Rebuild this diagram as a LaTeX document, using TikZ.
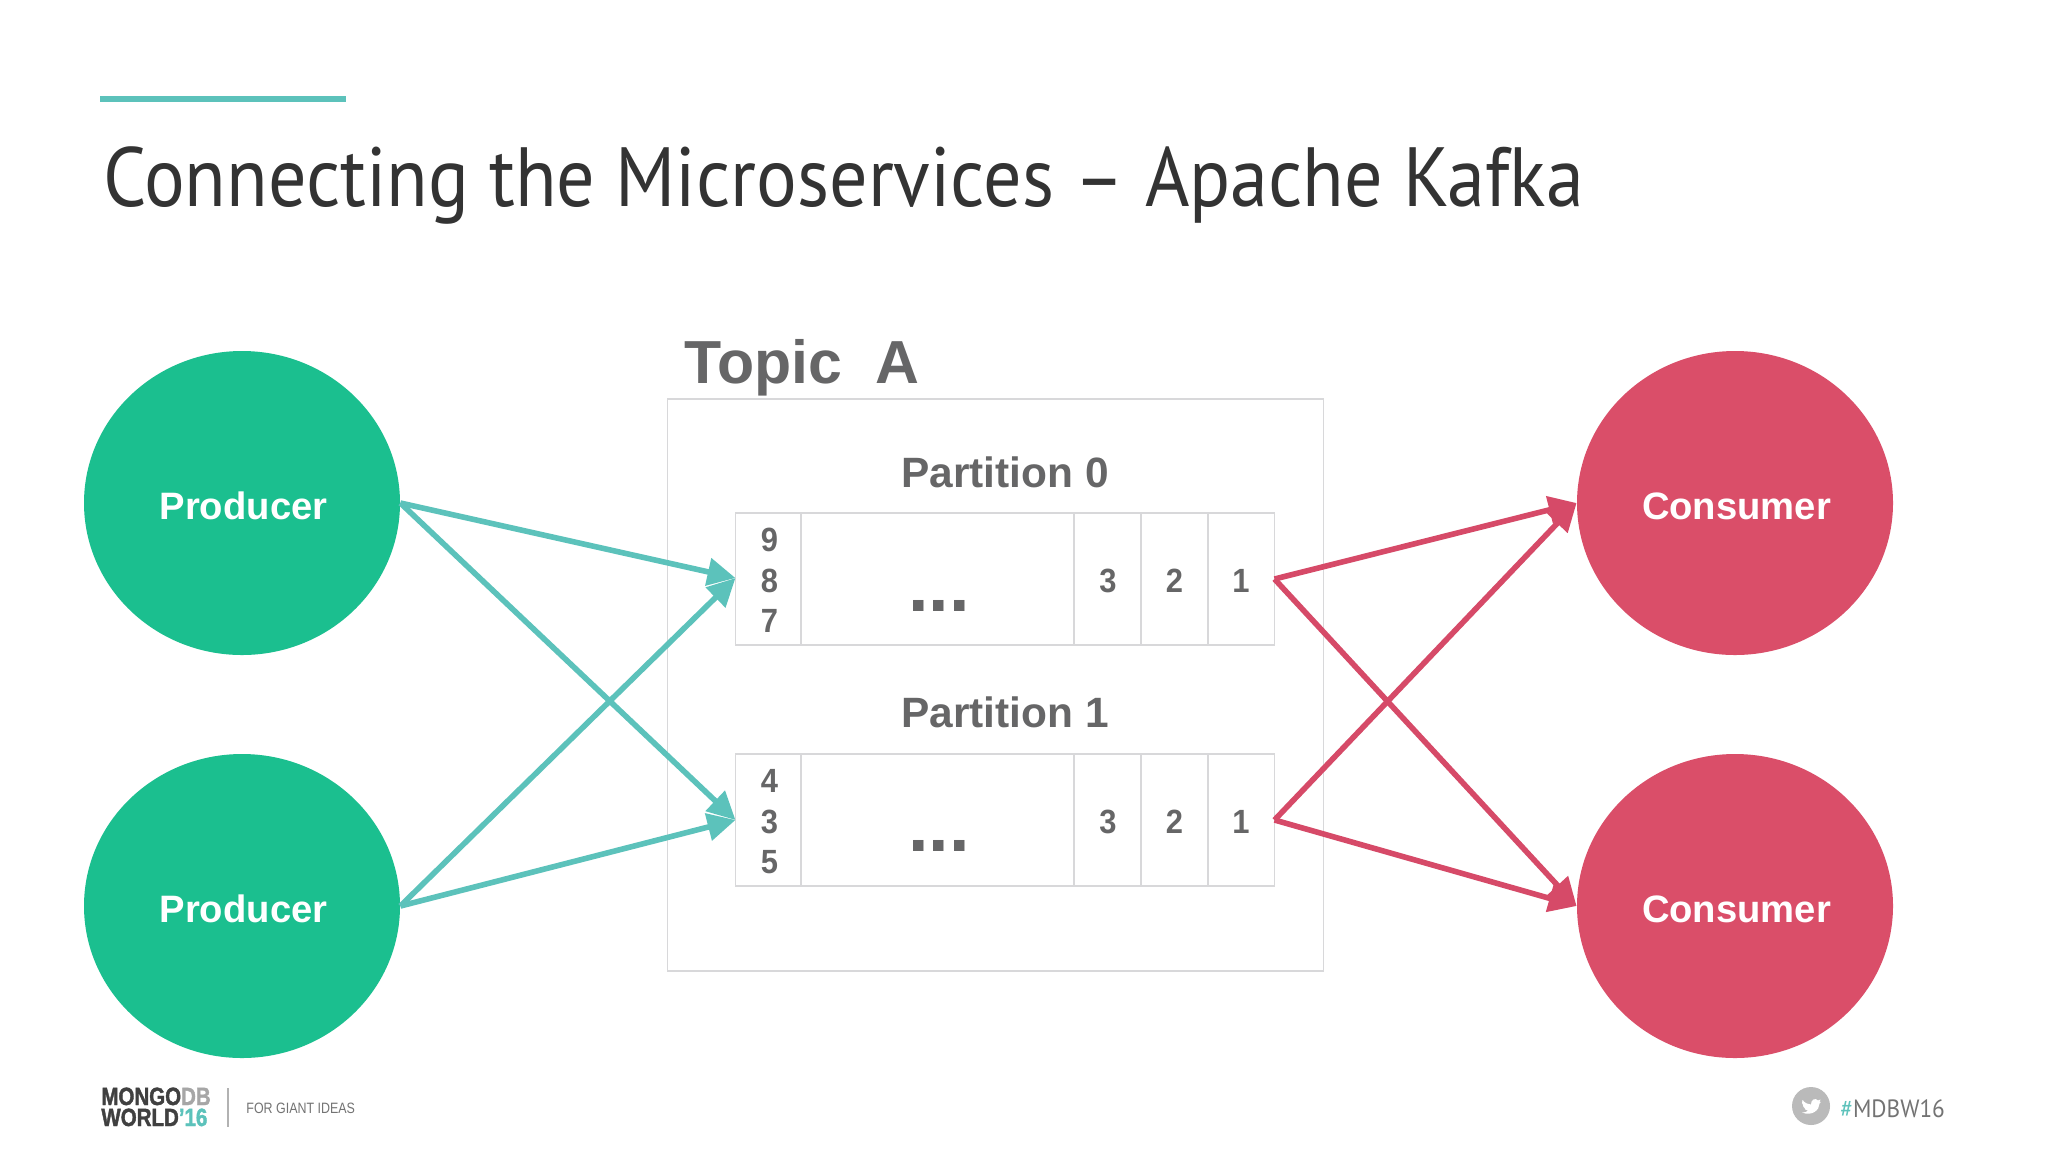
\documentclass[tikz,border=0pt]{standalone}
\usepackage{fontspec}
\setmainfont{Liberation Sans}
\newfontfamily\thinfont[FakeStretch=0.906]{PT Sans}
\newfontfamily\tagfont[FakeStretch=0.93]{PT Sans}
\usetikzlibrary{arrows.meta,shapes.geometric}
\definecolor{teal1}{HTML}{5CC2BB}
\definecolor{red1}{HTML}{D64A68}
\definecolor{greenc}{HTML}{1BBF8F}
\definecolor{redc}{HTML}{DA4E69}
\definecolor{graytx}{HTML}{666667}
\definecolor{boxl}{HTML}{D8D8DA}
\newcommand{\disctext}[1]{\hspace{1.5pt}\raisebox{-8.3pt}[0pt][0pt]{#1}}
\tikzset{
 x=0.5pt,y=-0.5pt,
 disc/.style={ellipse,minimum width=158pt,minimum height=152pt,inner sep=0pt,text=white,font=\bfseries\fontsize{19.1}{19.1}\selectfont},
 prod/.style={disc,fill=greenc},
 cons/.style={disc,fill=redc},
 lbl/.style={text=graytx,font=\bfseries\fontsize{21.2}{21.2}\selectfont,inner sep=0pt,anchor=base},
 dig/.style={text=graytx,font=\bfseries\addfontfeature{FakeStretch=0.92}\fontsize{16.8}{16.8}\selectfont,inner sep=0pt,anchor=base},
 cell/.style={draw=boxl,line width=0.8pt,inner sep=0pt},
 tl/.style={draw=teal1,line width=2.8pt,-{Triangle[length=14pt,width=13.5pt]}},
 rl/.style={draw=red1,line width=2.8pt,-{Triangle[length=14pt,width=13.5pt]}},
 dotsl/.style={lbl,font=\bfseries\fontsize{37}{37}\selectfont},
 logot/.style={anchor=base west,inner sep=0pt,font=\bfseries\addfontfeature{FakeStretch=0.82,FakeBold=1.5}\fontsize{12.5}{12.5}\selectfont},
}
\begin{document}
\begin{tikzpicture}
\useasboundingbox (0,0) rectangle (2048,1153);
\fill[white] (0,0) rectangle (2048,1153);
\fill[teal1] (100,96) rectangle (346,102);
\node[anchor=base west,inner sep=0pt,text=black!80,font=\thinfont\fontsize{42}{42}\selectfont] (title) at (103,206) {Connecting the Microservices – Apache Kafka};
\node[prod] (p1) at (242,503) {\disctext{Producer}};
\node[prod] (p2) at (242,906) {\disctext{Producer}};
\node[cons] (c1) at (1735,503) {\disctext{Consumer}};
\node[cons] (c2) at (1735,906) {\disctext{Consumer}};
\node[cell,minimum width=328pt,minimum height=286pt] (topic) at (995.5,685) {};
\node[lbl,anchor=base west,font=\bfseries\fontsize{30.4}{30.4}\selectfont] (tt) at (684,383) {Topic\ \ A};
\node[lbl] (pl0) at (1005,487) {Partition 0};
\node[lbl] (pl1) at (1005,727) {Partition 1};
\foreach \n/\t/\b in {a/513/645,b/754/886}{
 \node[cell,minimum width=269.5pt,minimum height=66pt] (part\n) at (1005,{(\t+\b)/2}) {};
 \foreach \x in {801,1074,1141,1208}
  \draw[boxl,line width=0.8pt] (\x,\t) -- (\x,\b);
}
\foreach \s/\yy in {9/551,8/592,7/632,4/792,3/833,5/873}
 \node[dig] (d\s) at (769.5,\yy) {\s};
\foreach \yy/\k in {592/a,833/b}{
 \node[dig] (x3\k) at (1108,\yy) {3};
 \node[dig] (x2\k) at (1174.5,\yy) {2};
 \node[dig] (x1\k) at (1241,\yy) {1};
}
\node[dotsl] (da) at (939,611) {...};
\node[dotsl] (db) at (939,851) {...};
\coordinate (ta) at (735.5,578);
\coordinate (tb) at (735.5,820);
\coordinate (ra) at (1274.5,579);
\coordinate (rb) at (1274.5,820);
\draw[tl] (p1.east) -- (ta);
\draw[tl] (p2.east) -- (ta);
\draw[tl] (p1.east) -- (tb);
\draw[tl] (p2.east) -- (tb);
\draw[rl] (ra) -- (c1.west);
\draw[rl] (ra) -- (c2.west);
\draw[rl] (rb) -- (c1.west);
\draw[rl] (rb) -- (c2.west);
% footer
\node[logot] (m1) at (101,1105) {\textcolor{black!75}{MONGO}\textcolor{black!35}{DB}};
\node[logot] (m2) at (101,1126) {\textcolor{black!75}{WORLD}\textcolor{teal1}{'16}};
\draw[black!30,line width=0.8pt] (228,1088) -- (228,1127);
\node[anchor=base west,inner sep=0pt,text=black!55,font=\addfontfeature{FakeStretch=0.83}\fontsize{7.5}{7.5}\selectfont] (fg) at (246,1113) {FOR GIANT IDEAS};
\node[circle,fill=black!27,minimum size=19pt,inner sep=0pt] (tw) at (1811,1106) {};
\fill[white] (1802.5,1100) .. controls (1805,1103) and (1808,1104.5) .. (1811,1104.5)
  .. controls (1810.5,1100) and (1815.5,1097) .. (1818,1100.5) -- (1820.5,1099.5) -- (1819.5,1102) -- (1821,1101.8) -- (1819.5,1103.5)
  .. controls (1819.5,1110) and (1812,1116.5) .. (1802,1112.5)
  .. controls (1805,1112.5) and (1806.5,1112) .. (1808,1110.5)
  .. controls (1806,1110.5) and (1805,1109.5) .. (1804.5,1108)
  .. controls (1803.5,1107.5) and (1803,1106) .. (1803,1105)
  .. controls (1802,1104) and (1801.5,1102) .. (1802.5,1100) -- cycle;
\node[anchor=base west,inner sep=0pt,text=black!55,font=\tagfont\fontsize{12.5}{12.5}\selectfont] (ht) at (1840,1117) {\textcolor{teal1}{\#}MDBW16};
\end{tikzpicture}
\end{document}
